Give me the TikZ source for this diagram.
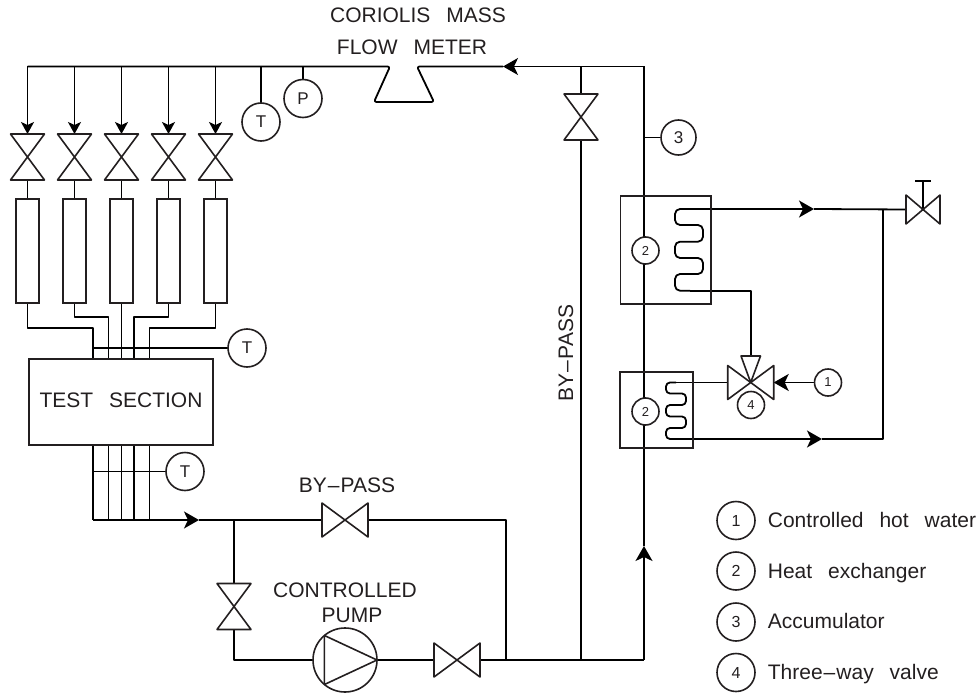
\documentclass[tikz,border=0pt]{standalone}
\usepackage{fontspec}
\setmainfont{Liberation Sans}
\usetikzlibrary{arrows.meta,backgrounds}
\definecolor{inkgray}{HTML}{231F20}
\newcommand{\gap}{\hspace{.76em}}

\begin{document}
\begin{tikzpicture}[x=1pt,y=-1pt,color=inkgray,line width=1.8pt,
  pipe/.style={line width=1.8pt,line join=round},
  tap/.style={line width=1.2pt},
  flow/.style={pipe,-{Stealth[length=15pt,width=17pt,inset=4pt]}},
  feed/.style={pipe,-{Stealth[length=12pt,width=13pt,inset=3pt]}},
  caption/.style={font=\fontsize{21}{24}\selectfont,inner sep=0pt},
  gauge/.style={circle,draw,fill=white,line width=1.6pt,minimum size=38pt,
    inner sep=0pt,outer sep=0pt,font=\fontsize{17}{20}\selectfont},
  keymark/.style={gauge,font=\fontsize{16}{18}\selectfont},
  numtag/.style={gauge,minimum size=27pt,font=\fontsize{13}{15}\selectfont},
  box/.style={rectangle,draw,line width=1.6pt,inner sep=0pt,outer sep=0pt},
  tube/.style={box,minimum width=23pt,minimum height=104pt},
  vvalve/.style={inner sep=0pt,outer sep=0pt,minimum width=34pt,minimum height=46pt,
    append after command={\pgfextra{\draw [line width=1.6pt,line join=round]
      (\tikzlastnode.north west) -- (\tikzlastnode.south east)
      -- (\tikzlastnode.south west) -- (\tikzlastnode.north east) -- cycle;}}},
  hvalve/.style={inner sep=0pt,outer sep=0pt,minimum width=46pt,minimum height=34pt,
    append after command={\pgfextra{\draw [line width=1.6pt,line join=round]
      (\tikzlastnode.north west) -- (\tikzlastnode.south east)
      -- (\tikzlastnode.north east) -- (\tikzlastnode.south west) -- cycle;}}}]

  \useasboundingbox (0,0) rectangle (977,693);

  % Labels of the loop

  \node [caption] (cor) at (418,15) {CORIOLIS\gap MASS};
  \node [caption] (flw) at (412,47) {FLOW\gap METER};
  \node [caption] (byh) at (347,485.5) {BY\kern1pt–\kern1pt PASS};
  \node [caption,rotate=90] (byv) at (566,353) {BY\kern1pt–\kern1pt PASS};
  \node [caption] (ctl) at (345,590.5) {CONTROLLED};
  \node [caption] (pmt) at (352,615.5) {PUMP};

  % Inlet valves and tubes of the five channels

  \node [vvalve] (vla) at (27.5,157) {};
  \node [vvalve] (vlb) at (74.5,157) {};
  \node [vvalve] (vlc) at (121.5,157) {};
  \node [vvalve] (vld) at (168.5,157) {};
  \node [vvalve] (vle) at (215.5,157) {};

  \node [tube] (tba) at (27.5,251) {};
  \node [tube] (tbb) at (74.5,251) {};
  \node [tube] (tbc) at (121.5,251) {};
  \node [tube] (tbd) at (168.5,251) {};
  \node [tube] (tbe) at (215.5,251) {};

  \node [box,caption,minimum width=184pt,minimum height=86pt] (tst) at (121,402)
    {\raisebox{4pt}{TEST\gap SECTION}};

  % Gauges on the lines

  \node [gauge] (tmh) at (261,122) {T};
  \node [gauge] (prs) at (303,98.5) {P};
  \node [gauge] (tmi) at (247,348) {T};
  \node [gauge] (tmo) at (185,471.5) {T};

  % Pump, valves and heat exchangers

  \node [circle,draw,line width=1.6pt,minimum size=64pt,inner sep=0pt,outer sep=0pt]
    (pmp) at (345,660) {};
  \draw [line width=1.6pt,line join=round] (pmp.130) -- (pmp.east) -- (pmp.230) -- cycle;

  \node [hvalve] (vby) at (345,520) {};
  \node [vvalve] (vpi) at (234,606.5) {};
  \node [hvalve] (vpo) at (457,660) {};
  \node [vvalve] (vbp) at (581,117) {};
  \node [hvalve,minimum width=34pt,minimum height=29pt] (vhw) at (923,209.5) {};
  \node [hvalve] (vtw) at (750.7,382.5) {};
  \coordinate (vtt) at (750.7,356);
  \draw [line width=1.6pt,line join=round]
    (vtw.center) -- (741,356) -- (760.5,356) -- cycle;

  \node [box,minimum width=90.5pt,minimum height=108pt] (hxa) at (665.7,250) {};
  \node [box,minimum width=72.5pt,minimum height=76pt] (hxb) at (656.5,410) {};

  \node [gauge,minimum size=35pt] (acc) at (678.5,137.5) {3};
  \node [numtag] (txa) at (645.5,250.5) {2};
  \node [numtag] (txb) at (645.5,411.5) {2};
  \node [numtag] (thw) at (828,382.5) {1};
  \node [numtag] (ttw) at (751,405) {4};

  % Key to the numbers

  \node [keymark] (kya) at (736,520.5) {1};
  \node [keymark] (kyb) at (736,571) {2};
  \node [keymark] (kyc) at (736,622) {3};
  \node [keymark] (kyd) at (736,672.5) {4};
  \node [caption,anchor=base west] (kta) at (767,527) {Controlled\gap hot\gap water};
  \node [caption,anchor=base west] (ktb) at (767,578) {Heat\gap exchanger};
  \node [caption,anchor=base west] (ktc) at (767,628) {Accumulator};
  \node [caption,anchor=base west] (ktd) at (767,679) {Three\kern1pt–\kern1pt way\gap valve};

  % Named points of the lines

  \coordinate (hdr) at (27.5,66.5);
  \coordinate (mtl) at (390,66.5);
  \coordinate (mba) at (374,102);
  \coordinate (mbb) at (434,102);
  \coordinate (mtr) at (417,66.5);
  \coordinate (ahd) at (503,66.5);
  \coordinate (crt) at (644,66.5);
  \coordinate (crb) at (644,660);
  \coordinate (aup) at (644,546);
  \coordinate (jby) at (581,660);
  \coordinate (jrt) at (506,660);
  \coordinate (jrb) at (506,520);
  \coordinate (ina) at (93,359);
  \coordinate (inb) at (108.5,359);
  \coordinate (ind) at (134,359);
  \coordinate (ine) at (149.5,359);
  \coordinate (ota) at (93,445);
  \coordinate (otb) at (108.5,445);
  \coordinate (otc) at (121.5,445);
  \coordinate (otd) at (134,445);
  \coordinate (ote) at (149.5,445);
  \coordinate (col) at (93,520);
  \coordinate (art) at (199,520);
  \coordinate (jpm) at (234,520);
  \coordinate (cpm) at (234,660);
  \coordinate (cla) at (690,209);
  \coordinate (clb) at (690,290.7);
  \coordinate (clc) at (676,382.5);
  \coordinate (cld) at (676,439);
  \coordinate (aha) at (814,209);
  \coordinate (ahb) at (822,439);
  \coordinate (jhw) at (883,209);
  \coordinate (chw) at (883,439);
  \coordinate (stm) at (923,181);
  \coordinate (sta) at (915,181);
  \coordinate (stb) at (931,181);

  % Connections, behind the symbols

  \begin{pgfonlayer}{background}

    % Header, meter and channels
    \draw [flow] (crt) -- (ahd);
    \draw [pipe,rounded corners=2.5pt] (ahd) -- (mtr) -- (mbb) -- (mba) -- (mtl) -- (hdr);
    \draw [feed] (hdr) -- (vla.north);
    \draw [feed] (vlb.north |- hdr) -- (vlb.north);
    \draw [feed] (vlc.north |- hdr) -- (vlc.north);
    \draw [feed] (vld.north |- hdr) -- (vld.north);
    \draw [feed] (vle.north |- hdr) -- (vle.north);
    \draw [pipe] (tmh.north |- hdr) -- (tmh.north);
    \draw [tap] (prs.north |- hdr) -- (prs.north);

    \draw [pipe] (vla.south) -- (tba.north);
    \draw [pipe] (vlb.south) -- (tbb.north);
    \draw [pipe] (vlc.south) -- (tbc.north);
    \draw [pipe] (vld.south) -- (tbd.north);
    \draw [pipe] (vle.south) -- (tbe.north);

    \draw [pipe] (tba.south) -- ++(0,25) -| (ina);
    \draw [pipe] (tbb.south) -- ++(0,14) -| (inb);
    \draw [pipe] (tbc.south) -- (tbc.south |- tst.north);
    \draw [pipe] (tbd.south) -- ++(0,14) -| (ind);
    \draw [pipe] (tbe.south) -- ++(0,25) -| (ine);
    \draw [tap] (tmi.west) -- (ina |- tmi);

    % Outlet of the test section
    \draw [pipe] (ota) -- (col);
    \draw [pipe] (otb) -- (otb |- col);
    \draw [pipe] (otc) -- (otc |- col);
    \draw [pipe] (otd) -- (otd |- col);
    \draw [pipe] (ote) -- (ote |- col);
    \draw [tap] (tmo.west) -- (ota |- tmo);
    \draw [flow] (col) -- (art);
    \draw [pipe] (art) -- (vby.west);

    % Pump and by-pass
    \draw [pipe] (jpm) -- (vpi.north);
    \draw [pipe] (vpi.south) -- (cpm) -- (pmp.west);
    \draw [pipe] (pmp.east) -- (vpo.west);
    \draw [pipe] (vpo.east) -- (crb);
    \draw [flow] (crb) -- (aup);
    \draw [pipe] (aup) -- (crt);
    \draw [pipe] (vby.east) -- (jrb) -- (jrt);
    \draw [pipe] (jby) -- (vbp.south);
    \draw [pipe] (vbp.north) -- (vbp.north |- crt);
    \draw [pipe] (acc.west) -- (acc.west -| crt);

    % Hot water side
    \draw [pipe,rounded corners=5pt] (cla) -- (675,209) -- (675,225) -- (703,225)
      -- (703,241.7) -- (675,241.7) -- (675,258) -- (703,258) -- (703,274)
      -- (675,274) -- (675,290.7) -- (clb);
    \draw [pipe,rounded corners=4pt] (clc) -- (666,382.5) -- (666,393.5) -- (686,393.5)
      -- (686,405) -- (666,405) -- (666,416.5) -- (686,416.5) -- (686,428)
      -- (666,428) -- (666,439) -- (cld);
    \draw [flow] (cla) -- (aha);
    \draw [pipe] (aha) -- (vhw.west);
    \draw [pipe] (clb) -| (vtt);
    \draw [pipe] (clc) -- (vtw.west);
    \draw [flow] (cld) -- (ahb);
    \draw [pipe] (ahb) -- (chw) -- (jhw);
    \draw [flow] (thw.west) -- (vtw.east);
    \draw [pipe] (vhw.center) -- (stm);
    \draw [pipe] (sta) -- (stb);
  \end{pgfonlayer}
\end{tikzpicture}
\end{document}
